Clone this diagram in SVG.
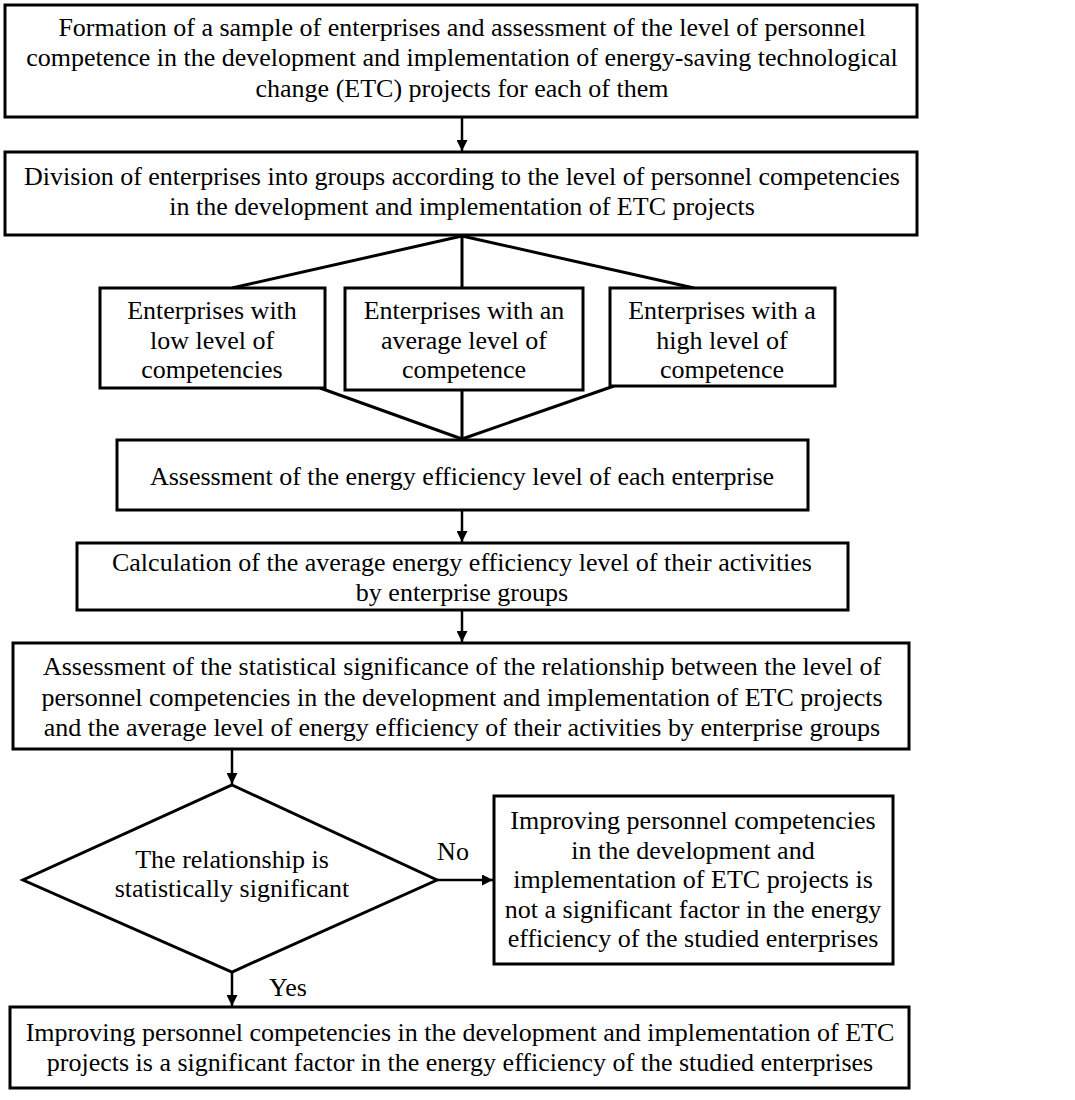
<svg xmlns="http://www.w3.org/2000/svg" width="1075" height="1100" viewBox="0 0 1075 1100">
<defs>
<marker id="ah" viewBox="0 0 10 10" refX="10" refY="5" markerWidth="11" markerHeight="11" markerUnits="userSpaceOnUse" orient="auto">
<path d="M0,0 L10,5 L0,10 z" fill="#000"/>
</marker>
<style>
.box{fill:#fff;stroke:#000;stroke-width:3}
.t{font-family:"Liberation Serif","Times New Roman",serif;font-size:26px;fill:#000;text-anchor:middle}
.ln{stroke:#000;stroke-width:3;fill:none}
.ar{stroke:#000;stroke-width:2.5;fill:none;marker-end:url(#ah)}
</style>
</defs>
<rect width="1075" height="1100" fill="#fff"/>
<g id="connectors">
<line class="ar" x1="462" y1="117" x2="462" y2="151"/>
<line class="ln" x1="462" y1="236" x2="232" y2="288"/>
<line class="ln" x1="462" y1="236" x2="462" y2="288"/>
<line class="ln" x1="462" y1="236" x2="694" y2="288"/>
<line class="ln" x1="320" y1="388" x2="462" y2="439"/>
<line class="ln" x1="462" y1="390" x2="462" y2="439"/>
<line class="ln" x1="614" y1="386" x2="462" y2="439"/>
<line class="ar" x1="462" y1="510" x2="462" y2="542"/>
<line class="ar" x1="462" y1="610" x2="462" y2="642"/>
<line class="ar" x1="232" y1="749" x2="232" y2="784"/>
<line class="ar" x1="437" y1="880" x2="493" y2="880"/>
<line class="ar" x1="232" y1="972" x2="232" y2="1006"/>
<text class="t" x="453" y="860">No</text>
<text class="t" x="288" y="996">Yes</text>
</g>
<g id="n1">
<rect class="box" x="5" y="5" width="912" height="112"/>
<text class="t" x="462" y="36">Formation of a sample of enterprises and assessment of the level of personnel</text>
<text class="t" x="462" y="66">competence in the development and implementation of energy-saving technological</text>
<text class="t" x="462" y="97">change (ETC) projects for each of them</text>
</g>
<g id="n2">
<rect class="box" x="5" y="152" width="912" height="83"/>
<text class="t" x="462" y="185">Division of enterprises into groups according to the level of personnel competencies</text>
<text class="t" x="462" y="215">in the development and implementation of ETC projects</text>
</g>
<g id="n3a">
<rect class="box" x="100" y="288" width="225" height="100"/>
<text class="t" x="212" y="319">Enterprises with</text>
<text class="t" x="212" y="349">low level of</text>
<text class="t" x="212" y="378">competencies</text>
</g>
<g id="n3b">
<rect class="box" x="345" y="288" width="238" height="102"/>
<text class="t" x="464" y="319">Enterprises with an</text>
<text class="t" x="464" y="349">average level of</text>
<text class="t" x="464" y="378">competence</text>
</g>
<g id="n3c">
<rect class="box" x="610" y="288" width="225" height="98"/>
<text class="t" x="722" y="319">Enterprises with a</text>
<text class="t" x="722" y="349">high level of</text>
<text class="t" x="722" y="378">competence</text>
</g>
<g id="n4">
<rect class="box" x="117" y="440" width="691" height="70"/>
<text class="t" x="462" y="485">Assessment of the energy efficiency level of each enterprise</text>
</g>
<g id="n5">
<rect class="box" x="77" y="543" width="771" height="67"/>
<text class="t" x="462" y="571">Calculation of the average energy efficiency level of their activities</text>
<text class="t" x="462" y="601">by enterprise groups</text>
</g>
<g id="n6">
<rect class="box" x="13" y="643" width="896" height="106"/>
<text class="t" x="462" y="675">Assessment of the statistical significance of the relationship between the level of</text>
<text class="t" x="462" y="706">personnel competencies in the development and implementation of ETC projects</text>
<text class="t" x="462" y="736">and the average level of energy efficiency of their activities by enterprise groups</text>
</g>
<g id="n7">
<polygon class="box" points="232,785 437,880 232,972 23,880"/>
<text class="t" x="232" y="868">The relationship is</text>
<text class="t" x="232" y="897">statistically significant</text>
</g>
<g id="n8">
<rect class="box" x="494" y="796" width="399" height="168"/>
<text class="t" x="693" y="829">Improving personnel competencies</text>
<text class="t" x="693" y="859">in the development and</text>
<text class="t" x="693" y="888">implementation of ETC projects is</text>
<text class="t" x="693" y="918">not a significant factor in the energy</text>
<text class="t" x="693" y="947">efficiency of the studied enterprises</text>
</g>
<g id="n9">
<rect class="box" x="10" y="1007" width="899" height="81"/>
<text class="t" x="460" y="1041">Improving personnel competencies in the development and implementation of ETC</text>
<text class="t" x="460" y="1071">projects is a significant factor in the energy efficiency of the studied enterprises</text>
</g>
</svg>
